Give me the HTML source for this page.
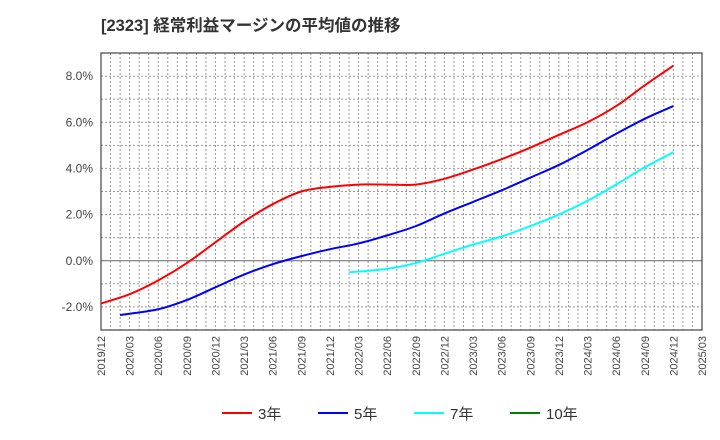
<!DOCTYPE html>
<html><head><meta charset="utf-8"><style>
body{margin:0;background:#fff;}
svg{display:block;font-family:"Liberation Sans","Noto Sans CJK JP",sans-serif;}
</style></head><body>
<svg id="chart" width="720" height="440">
<text x="101" y="31" font-size="16.5" font-weight="bold" fill="#333">[2323]  経常利益マージンの平均値の推移</text>
<g id="grid"></g><g id="axes"></g><g id="series"></g><g id="legend"></g>
</svg>
<script>
const xLabels=["2019/12","2020/03","2020/06","2020/09","2020/12","2021/03","2021/06","2021/09","2021/12","2022/03","2022/06","2022/09","2022/12","2023/03","2023/06","2023/09","2023/12","2024/03","2024/06","2024/09","2024/12","2025/03"];
const yTicks=[-2,0,2,4,6,8];
const s3=[-1.85,-1.45,-0.85,-0.1,0.8,1.7,2.45,3.0,3.2,3.3,3.3,3.3,3.55,3.95,4.4,4.9,5.45,6.0,6.7,7.6,8.45];
const m3=[0,3,6,9,12,15,18,21,24,27,30,33,36,39,42,45,48,51,54,57,60];
const s5=[-2.35,-2.1,-1.7,-1.15,-0.6,-0.15,0.2,0.5,0.75,1.1,1.5,2.05,2.55,3.05,3.6,4.15,4.8,5.5,6.15,6.7];
const m5=[2,6,9,12,15,18,21,24,27,30,33,36,39,42,45,48,51,54,57,60];
const s7=[-0.5,-0.35,-0.1,0.3,0.7,1.05,1.5,2.0,2.6,3.3,4.05,4.7];
const m7=[26,30,33,36,39,42,45,48,51,54,57,60];
const s10=[];
const m10=[];
const L=101,R=702,T=53,B=330,ymin=-3,ymax=9;
const NS="http://www.w3.org/2000/svg";
const nm=(xLabels.length-1)*3;
const XM=m=>L+(R-L)*m/nm;
const X=i=>L+(R-L)*i/(xLabels.length-1);
const Y=v=>B-(v-ymin)/(ymax-ymin)*(B-T);
function mk(tag,attrs,parent){const e=document.createElementNS(NS,tag);for(const k in attrs)e.setAttribute(k,attrs[k]);parent.appendChild(e);return e;}
const grid=document.getElementById('grid'),axes=document.getElementById('axes'),ser=document.getElementById('series'),leg=document.getElementById('legend');
for(let m=1;m<nm;m++){const x=XM(m);const l=mk('line',{x1:x,x2:x,y1:T,y2:B,stroke:'#999','stroke-dasharray':'2,2','stroke-width':1},grid);

}
for(let v=ymin+1;v<ymax;v++){const y=Y(v);const l=mk('line',{x1:L,x2:R,y1:y,y2:y,stroke:v===0?'#666':'#999','stroke-dasharray':v===0?'none':'2,2','stroke-width':1},grid);

}
const fr=mk('rect',{x:L,y:T,width:R-L,height:B-T,fill:'none',stroke:'#444','stroke-width':1.2},axes);


yTicks.forEach(v=>{const t=mk('text',{x:L-8,y:Y(v)+4,'font-size':12,fill:'#444','text-anchor':'end'},axes);t.textContent=v.toFixed(1)+'%';

});
xLabels.forEach((s,i)=>{const x=X(i)+4,y=B+6;const t=mk('text',{x:x,y:y,'font-size':11,fill:'#444','text-anchor':'end',transform:`rotate(-90 ${x} ${y})`},axes);t.textContent=s;

});
function path(data,months,color,name){if(!data.length)return;const pts=data.map((v,i)=>[XM(months[i]),Y(v)]);
let d='M'+pts[0].join(',');for(let i=0;i<pts.length-1;i++){const p0=pts[i-1]||pts[i],p1=pts[i],p2=pts[i+1],p3=pts[i+2]||p2;
d+=` C${p1[0]+(p2[0]-p0[0])/6},${p1[1]+(p2[1]-p0[1])/6} ${p2[0]-(p3[0]-p1[0])/6},${p2[1]-(p3[1]-p1[1])/6} ${p2[0]},${p2[1]}`;}
const p=mk('path',{d:d,fill:'none',stroke:color,'stroke-width':2},ser);

}
path(s3,m3,'#ff0000','line-3yr');path(s5,m5,'#0000ff','line-5yr');path(s7,m7,'#00ffff','line-7yr');path(s10,m10,'#008000','line-10yr');
[['3年','#ff0000',222],['5年','#0000ff',318],['7年','#00ffff',414],['10年','#008000',510]].forEach(([lab,c,x])=>{
const g=mk('g',{},leg);


mk('line',{x1:x,x2:x+30,y1:413,y2:413,stroke:c,'stroke-width':2},g);
const t=mk('text',{x:x+36,y:419,'font-size':15,fill:'#333'},g);t.textContent=lab;});
</script>
</body></html>
